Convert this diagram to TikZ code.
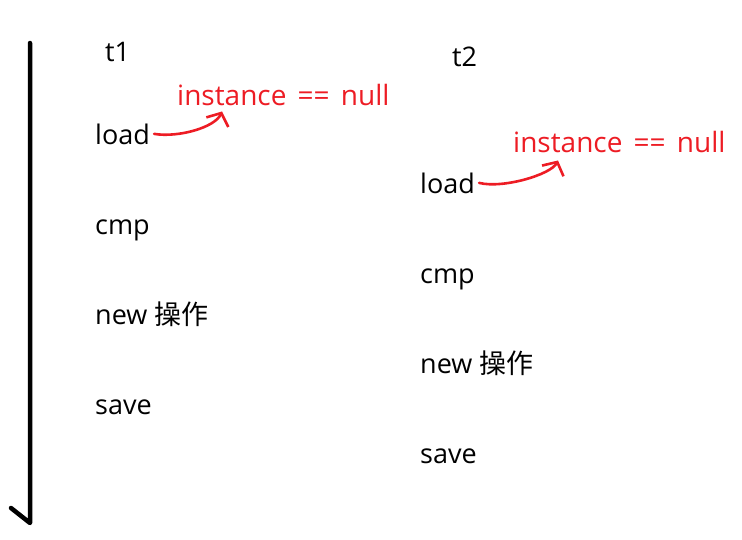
\documentclass[tikz,border=0pt]{standalone}
\usepackage{fontspec}
\setmainfont{Open Sans}
\newfontfamily\cjk{Noto Sans CJK SC}
\usetikzlibrary{arrows.meta}
\definecolor{inkred}{HTML}{ED1C24}
\newcommand\condfont{\fontsize{28}{32}\selectfont\spaceskip=0.4em\relax}
\tikzset{
  every picture/.style={line join=round, line cap=round},
  op/.style={anchor=base west, inner sep=0pt, font=\fontsize{27}{32}\selectfont},
  cond/.style={op, text=inkred, font=\condfont},
  checkarrow/.style={draw=inkred, line width=2.6pt, -{Straight Barb[length=10pt,width=24pt]}},
  timeline/.style={line width=4.5pt},
}

\begin{document}
\begin{tikzpicture}[x=1pt,y=-1pt]
\useasboundingbox (0,0) rectangle (742,539);
% time axis
\draw[timeline] (30,43) -- (30,523) -- (11,508);
% thread t1
\node[op] (t1) at (105,61) {t1};
\node[op] (l1) at (95,144) {load};
\node[op] (c1) at (95,234) {cmp};
\node[op] (w1) at (95,324) {new {\cjk 操作}};
\node[op] (s1) at (95,414) {save};
\node[cond] (n1) at (177,105) {instance == null};
% thread t2
\node[op] (t2) at (452,66) {t2};
\node[op] (l2) at (420,193) {load};
\node[op] (c2) at (420,283) {cmp};
\node[op] (w2) at (420,373) {new {\cjk 操作}};
\node[op] (s2) at (420,463) {save};
\node[cond] (n2) at (513,152) {instance == null};
% checks
\draw[checkarrow] ([xshift=4pt]l1.east) .. controls ([shift={(28pt,-4pt)}]l1.east) and ([shift={(38pt,-22pt)}]n1.south west) .. ([shift={(45pt,-6pt)}]n1.south west);
\draw[checkarrow] ([xshift=4pt]l2.east) .. controls ([shift={(28pt,-6pt)}]l2.east) and ([shift={(38pt,-22pt)}]n2.south west) .. ([shift={(45pt,-8pt)}]n2.south west);
\end{tikzpicture}
\end{document}
